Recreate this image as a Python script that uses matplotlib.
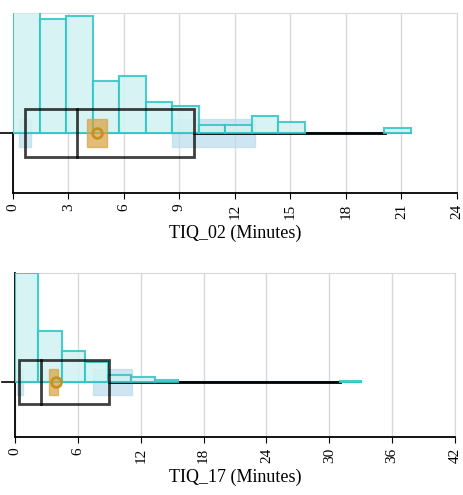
import matplotlib
matplotlib.use("Agg")
import matplotlib.pyplot as plt
from matplotlib.patches import Rectangle
import numpy as np

plt.rcParams['font.family'] = ['Liberation Serif']

# Chart 1: TIQ_02
edges1 = np.linspace(0, 21.5, 16)
counts1 = [121, 114, 117, 52, 57, 31, 27, 8, 8, 17, 11, 0, 0, 0, 5]
box1 = dict(q1=0.66, med=3.46, q3=9.8, lo=0.0, hi=21.5, whisk_hi=20.1)
mean1 = (4.0, 5.06, 4.55)
ci1 = [(0.33, 1.0), (8.6, 13.1)]

# Chart 2: TIQ_17
edges2 = np.array([0, 2.22, 4.44, 6.66, 8.88, 11.1, 13.32, 15.6, 31.0, 33.0])
counts2 = [109, 51, 31, 20, 7, 5, 2, 0, 1]
box2 = dict(q1=0.38, med=2.47, q3=8.93, lo=0.0, hi=33.0, whisk_hi=31.0)
mean2 = (3.2, 4.1, 3.9)
ci2 = [(0.2, 0.8), (7.4, 11.2)]

fig = plt.figure(figsize=(4.64, 4.95), dpi=100)
W, H = 464, 495
teal = '#2ec4c4'

def panel(rect, edges, counts, box, mean, cis, xmax, step, ylim, label, hb, half_spine):
    ax = fig.add_axes(rect)
    ax.set_xlim(0, xmax)
    ax.set_ylim(*ylim)
    ax.set_xticks(np.arange(0, xmax + 0.1, step))
    ax.tick_params(axis='x', labelrotation=90, labelsize=11, length=4)
    ax.set_yticks([])
    ax.grid(axis='x', color='#d8d8d8', lw=1)
    ax.set_axisbelow(True)
    for s in ['top', 'right']:
        ax.spines[s].set_color('#d8d8d8')
    ax.spines['left'].set_linewidth(1.3)
    ax.spines['bottom'].set_linewidth(1.3)
    if half_spine:
        ax.spines['left'].set_bounds(ylim[0], 0)
    ax.plot([-0.03 * xmax, 0], [0, 0], color='black', lw=1.2, clip_on=False)
    for a, b in cis:
        ax.add_patch(Rectangle((a, -hb * 0.6), b - a, hb * 1.2, color='#b8dcec', alpha=0.7, zorder=1))
    ax.add_patch(Rectangle((mean[0], -hb * 0.6), mean[1] - mean[0], hb * 1.2, color='#d9a040', alpha=0.7, zorder=4))
    ax.plot(mean[2], 0, 'o', ms=7, mfc='none', mec='#c89020', mew=2, zorder=5)
    widths = np.diff(edges)
    for x0, w, c in zip(edges[:-1], widths, counts):
        if c > 0:
            ax.add_patch(Rectangle((x0, 0), w, c, facecolor='#d2f2f2', edgecolor=teal, lw=1.5, alpha=0.85, zorder=3))
    ax.plot([0, box['hi']], [0, 0], color=teal, lw=1.5, zorder=2.5)
    ax.plot([box['q3'], box['whisk_hi']], [0, 0], color='black', lw=2, zorder=2.8)
    ax.add_patch(Rectangle((box['q1'], -hb), box['q3'] - box['q1'], 2 * hb, fill=False, ec='black', lw=2, alpha=0.75, zorder=6))
    ax.plot([box['med']] * 2, [-hb, hb], color='black', lw=2, alpha=0.75, zorder=6)
    ax.set_xlabel(label, fontsize=13, labelpad=4)
    return ax

panel([13 / W, (H - 193) / H, 444 / W, 180 / H], edges1, counts1, box1, mean1, ci1,
      24, 3, (-60, 120), 'TIQ_02 (Minutes)', 24, True)
panel([15 / W, (H - 437) / H, 440 / W, 164 / H], edges2, counts2, box2, mean2, ci2,
      42, 6, (-55, 109), 'TIQ_17 (Minutes)', 22, False)

fig.savefig('out.png', dpi=100)
